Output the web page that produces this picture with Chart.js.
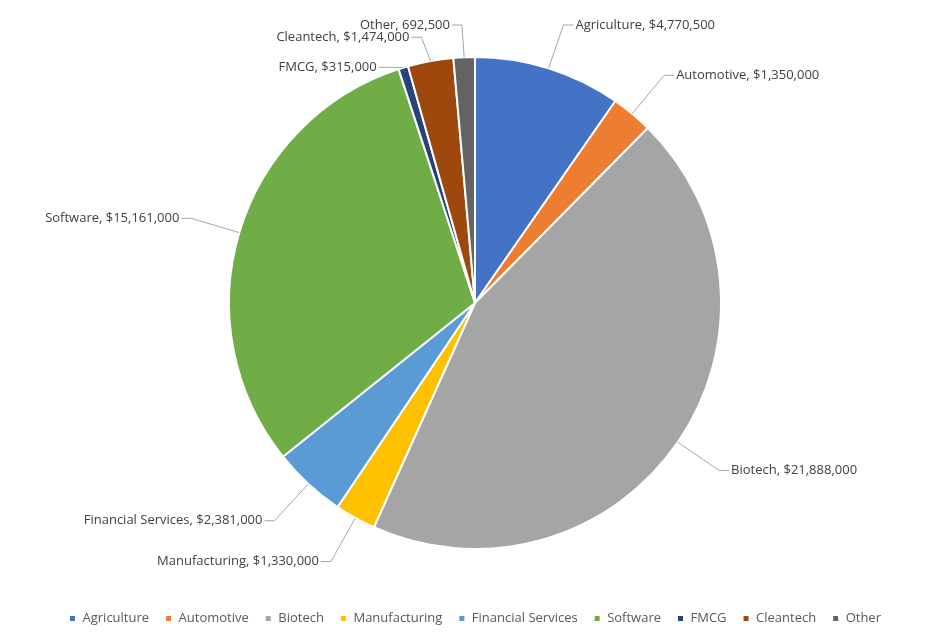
<!DOCTYPE html>
<html><head><meta charset="utf-8">
<script src="https://cdn.jsdelivr.net/npm/chart.js@4"></script>
<style>html,body{margin:0;background:#fff}#wrap{width:950px;height:641px}</style>
</head><body><div id="wrap"><canvas id="c"></canvas></div>
<script>
const categories = ["Agriculture","Automotive","Biotech","Manufacturing","Financial Services","Software","FMCG","Cleantech","Other"];
const values = [4770500,1350000,21888000,1330000,2381000,15161000,315000,1474000,692500];
const valueText = ["$4,770,500","$1,350,000","$21,888,000","$1,330,000","$2,381,000","$15,161,000","$315,000","$1,474,000","692,500"];
const colors = ["#4472C4","#ED7D31","#A5A5A5","#FFC000","#5B9BD5","#70AD47","#264478","#9E480E","#636363"];

const outLabels = {
  id: 'outLabels',
  afterDraw(chart) {
    const ctx = chart.ctx;
    const meta = chart.getDatasetMeta(0);
    ctx.save();
    ctx.font = '13px "Open Sans", sans-serif';
    ctx.fillStyle = '#404040';
    ctx.strokeStyle = '#a6a6a6';
    ctx.lineWidth = 1;
    const items = meta.data.map((arc, i) => {
      const mid = (arc.startAngle + arc.endAngle) / 2;
      const r = arc.outerRadius;
      const cos = Math.cos(mid), sin = Math.sin(mid);
      const d = r + 50;
      return { i, ax: arc.x + cos * r, ay: arc.y + sin * r, lx: arc.x + cos * d, ly: arc.y + sin * d, right: cos >= 0 };
    });
    // spread labels vertically per side so they don't overlap
    [true, false].forEach(side => {
      const s = items.filter(o => o.right === side).sort((a, b) => a.ly - b.ly);
      for (let k = 1; k < s.length; k++) if (s[k].ly - s[k-1].ly < 30) s[k].ly = s[k-1].ly + 30;
      for (let k = 0; k < s.length; k++) if (s[k].ly < 25) s[k].ly = 25;
    });
    items.forEach(o => {
      const txt = categories[o.i] + ', ' + valueText[o.i];
      const w = ctx.measureText(txt).width;
      const tx = o.right ? o.lx + 12 : o.lx - 12 - w;
      ctx.beginPath();
      ctx.moveTo(o.ax, o.ay);
      ctx.lineTo(o.lx, o.ly);
      ctx.lineTo(o.right ? o.lx + 10 : o.lx - 10, o.ly);
      ctx.stroke();
      ctx.textBaseline = 'middle';
      ctx.fillText(txt, tx, o.ly);
    });
    ctx.restore();
  }
};

new Chart(document.getElementById('c'), {
  type: 'pie',
  data: {
    labels: categories,
    datasets: [{
      data: values,
      backgroundColor: colors,
      borderColor: '#fff',
      borderWidth: 2,
      radius: 246
    }]
  },
  options: {
    responsive: true,
    maintainAspectRatio: false,
    animation: false,
    layout: { padding: { top: 10, bottom: 6 } },
    plugins: {
      legend: {
        position: 'bottom',
        labels: { boxWidth: 7, boxHeight: 7, padding: 16, color: '#595959', font: { family: '"Open Sans", sans-serif', size: 13 } }
      },
      tooltip: { enabled: false }
    }
  },
  plugins: [outLabels]
});
</script></body></html>
